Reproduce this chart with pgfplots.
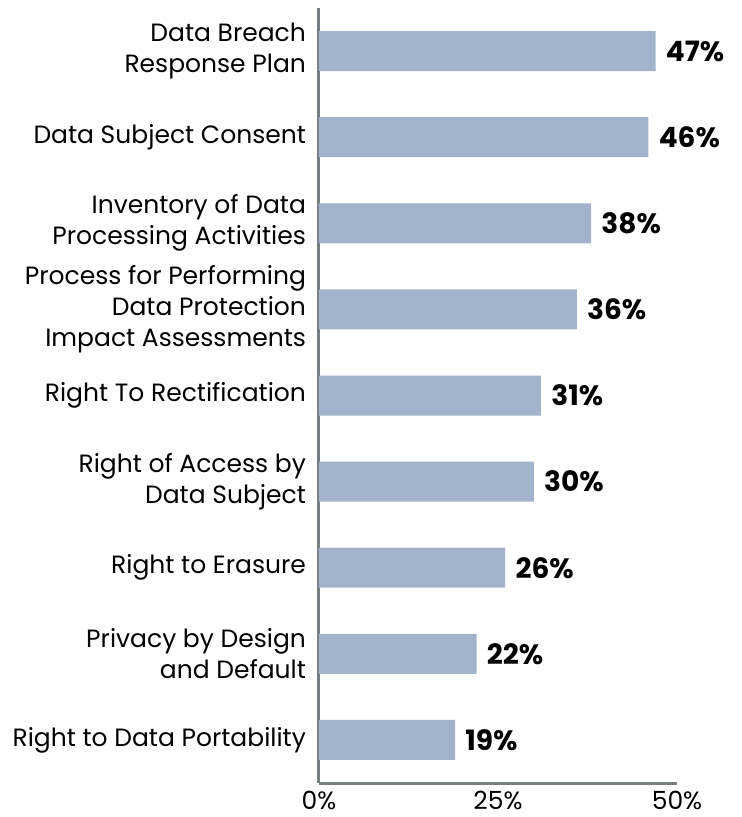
\documentclass[border=0pt]{standalone}
\usepackage{fontspec}
\setmainfont{Poppins}
\usepackage{pgfplots}
\pgfplotsset{compat=1.18}
\definecolor{barblue}{RGB}{162,179,203}
\definecolor{axisgray}{RGB}{118,126,128}
\begin{document}
\begin{tikzpicture}
  \begin{axis}[
      at={(0,0)}, anchor=south west,
      scale only axis,
      width=179pt, height=387.5pt,
      xbar, bar width=20pt,
      xmin=0, xmax=50, ymin=-0.5, ymax=8.5,
      axis lines*=left,
      axis line style={axisgray, line width=1.5pt},
      xtick={0,25,50},
      xticklabels={0\%,25\%,50\%},
      ytick={0,...,8},
      yticklabels={
        {Right to Data Portability},
        {Privacy by Design\\and Default},
        {Right to Erasure},
        {Right of Access by\\Data Subject},
        {Right To Rectification},
        {Process for Performing\\Data Protection\\Impact Assessments},
        {Inventory of Data\\Processing Activities},
        {Data Subject Consent},
        {Data Breach\\Response Plan}},
      major tick length=0pt,
      tick style={draw=none},
      xticklabel style={font=\fontsize{12.5}{15.5}\selectfont, anchor=north, inner sep=0pt, yshift=-4pt},
      yticklabel style={font=\fontsize{12.5}{15.5}\selectfont, align=right, xshift=-3pt},
      /pgf/number format/assume math mode=true,
      nodes near coords={\pgfmathprintnumber[assume math mode=true]{\pgfplotspointmeta}\%},
      point meta=x,
      every node near coord/.append style={font=\fontsize{14}{16}\selectfont\bfseries, anchor=west, inner sep=0pt, xshift=5pt},
    ]
    \addplot[fill=barblue, draw=none] coordinates {
      (19,0) (22,1) (26,2) (30,3) (31,4) (36,5) (38,6) (46,7) (47,8)
    };
  \end{axis}
  \pgfresetboundingbox
  \path[use as bounding box] (-159.5pt,-17pt) rectangle (211pt,391.5pt);
\end{tikzpicture}
\end{document}
